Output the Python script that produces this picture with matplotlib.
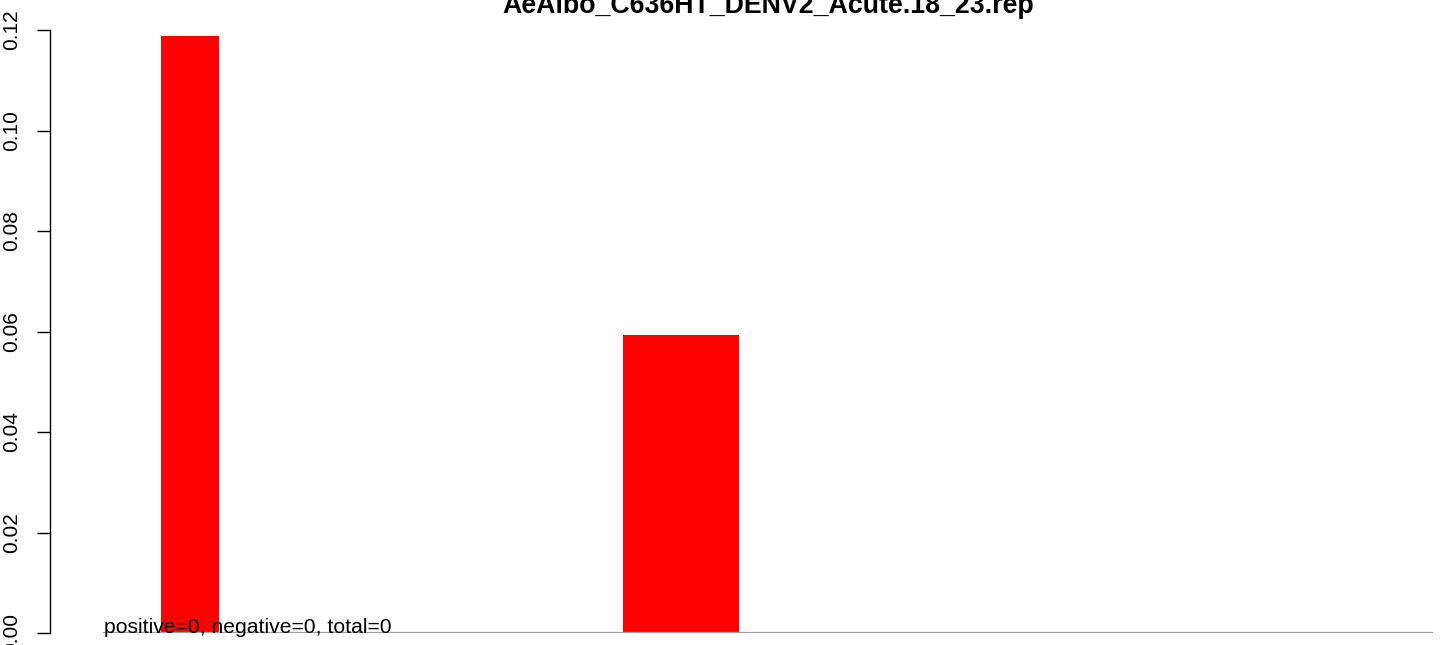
import numpy as np
from matplotlib import pyplot as plt

titolo = "AeAlbo_C636HT_DENV2_Acute.18_23.rep"
inizio = [1, 9]          # bordo sinistro delle barre
larghezze = [1, 2]
altezze = [0.1188, 0.0593]
yticks = [0.00, 0.02, 0.04, 0.06, 0.08, 0.10, 0.12]
nota = "positive=0, negative=0, total=0"

plt.rcParams['font.family'] = ['Liberation Sans', 'DejaVu Sans']

W, H = 1444, 645
fig = plt.figure(figsize=(W/100, H/100), dpi=100)
# area del grafico in pixel: x 103-1433, y 30-633
ax = fig.add_axes([103/W, (H-633)/H, (1433-103)/W, (633-30)/H])

ax.bar(inizio, altezze, width=larghezze, align='edge', color='#FF0000', edgecolor='none')
ax.axhline(0, color='#A0A0A0', lw=1.6)

ax.set_xlim(0, 23)
ax.set_ylim(0, 0.12)

for s in ['top', 'right', 'bottom']:
    ax.spines[s].set_visible(False)
ax.spines['left'].set_position(('outward', 53*0.72))  # 53 pixel
ax.spines['left'].set_bounds(0, 0.12)
ax.spines['left'].set_linewidth(1)
ax.set_xticks([])
ax.set_yticks(yticks)
ax.set_yticklabels(["{0:.2f}".format(v) for v in yticks], rotation=90, va='center', fontsize=15)
ax.tick_params(axis='y', length=9.5, width=1, pad=11)

ax.text(0.02, 0, nota, fontsize=15.2, ha='left', va='baseline')
fig.text((103+1433)/2/W, (H-13)/H, titolo, fontsize=19.3, fontweight='bold', ha='center', va='baseline')

plt.savefig('out.png', dpi=100)
